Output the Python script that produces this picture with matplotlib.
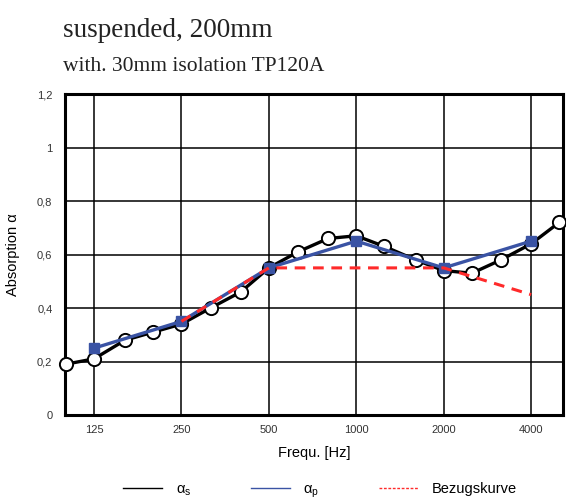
import matplotlib
matplotlib.use("Agg")
import matplotlib.pyplot as plt
from matplotlib.lines import Line2D
from matplotlib.ticker import FixedLocator, NullLocator, FixedFormatter

# ---- data ----
freq_s = [100, 125, 160, 200, 250, 315, 400, 500, 630, 800, 1000, 1250, 1600, 2000, 2500, 3150, 4000, 5000]
alpha_s = [0.19, 0.21, 0.28, 0.31, 0.34, 0.40, 0.46, 0.55, 0.61, 0.66, 0.67, 0.63, 0.58, 0.54, 0.53, 0.58, 0.64, 0.72]
freq_p = [125, 250, 500, 1000, 2000, 4000]
alpha_p = [0.25, 0.35, 0.55, 0.65, 0.55, 0.65]
freq_ref = [250, 500, 1000, 2000, 4000]
alpha_ref = [0.35, 0.55, 0.55, 0.55, 0.45]
xticks = [125, 250, 500, 1000, 2000, 4000]
xticklabels = ["125", "250", "500", "1000", "2000", "4000"]
yticks = [0, 0.2, 0.4, 0.6, 0.8, 1.0, 1.2]
yticklabels = ["0", "0,2", "0,4", "0,6", "0,8", "1", "1,2"]

plt.rcParams['font.family'] = ['Liberation Sans', 'DejaVu Sans']
plt.rcParams['mathtext.fontset'] = 'custom'
plt.rcParams['mathtext.rm'] = 'Liberation Sans'
plt.rcParams['mathtext.it'] = 'Liberation Sans:italic'

fig = plt.figure(figsize=(5.66, 4.99), dpi=100)
ax = fig.add_axes([0.1148, 0.1683, 0.8799, 0.6433])

blue = '#3a53a4'
red = '#ff2a2a'

ax.plot(freq_s, alpha_s, color='black', lw=2.4, marker='o', ms=9.5,
        mfc='white', mec='black', mew=1.4, zorder=3, clip_on=False)
ax.plot(freq_p, alpha_p, color=blue, lw=2.4, marker='s', ms=6.5,
        mfc=blue, mec=blue, zorder=4, clip_on=False)
ax.plot(freq_ref, alpha_ref, color=red, lw=2.2, ls=(0, (3.5, 2.5)), zorder=5)

ax.set_xscale('log')
ax.set_xlim(99.3, 5150)
ax.set_ylim(0, 1.2)
ax.xaxis.set_major_locator(FixedLocator(xticks))
ax.xaxis.set_major_formatter(FixedFormatter(xticklabels))
ax.xaxis.set_minor_locator(NullLocator())
ax.set_yticks(yticks)
ax.set_yticklabels(yticklabels)
ax.tick_params(length=0, labelsize=8, colors='#333333', pad=7)
ax.tick_params(axis='y', pad=9)
ax.grid(True, color='black', lw=1.1)
ax.set_axisbelow(True)
for s in ax.spines.values():
    s.set_linewidth(2.2)
    s.set_color('black')

ax.set_xlabel('Frequ. [Hz]', fontsize=10.5, labelpad=8)
ax.set_ylabel('Absorption α', fontsize=10.5, labelpad=12)

fig.text(63/566, 1 - 37/499, 'suspended, 200mm', fontsize=19.5,
         family=['Liberation Serif', 'DejaVu Serif'], color='#222222', va='baseline')
fig.text(63/566, 1 - 71/499, 'with. 30mm isolation TP120A', fontsize=15.5,
         family=['Liberation Serif', 'DejaVu Serif'], color='#222222', va='baseline')

handles = [Line2D([], [], color='black', lw=1),
           Line2D([], [], color=blue, lw=1),
           Line2D([], [], color=red, lw=1, ls=(0, (2, 1.2)))]
labels = ['α$_\\mathrm{s}$', 'α$_\\mathrm{p}$', 'Bezugskurve']
fig.legend(handles, labels, loc='center', bbox_to_anchor=(0.565, 1 - 491/499),
           ncol=3, frameon=False, fontsize=10.5, handlelength=2.7,
           columnspacing=4.1, handletextpad=0.9)

fig.savefig('out.png', dpi=100)
